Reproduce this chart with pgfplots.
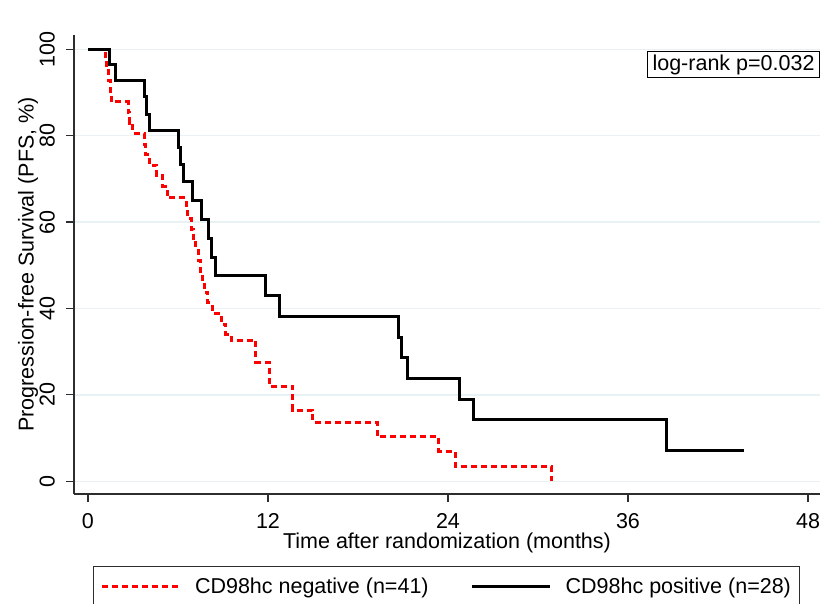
\documentclass[border=0pt]{standalone}
\usepackage{fontspec}
\setmainfont{Liberation Sans}
\usepackage{pgfplots}
\pgfplotsset{compat=1.18}
\definecolor{gridc}{RGB}{232,241,243}
\definecolor{axc}{RGB}{45,45,45}
\newcommand{\fs}{\fontsize{21.5}{25}\selectfont}

\begin{document}
\begin{tikzpicture}
\begin{axis}[
    scale only axis,
    width=746pt, height=459pt,
    xmin=-0.93, xmax=48.8, ymin=-2.94, ymax=103.3,
    axis x line*=bottom, axis y line*=left,
    axis line style={axc, line width=1.2pt, -},
    xtick={0,12,24,36,48}, ytick={0,20,...,100},
    tick align=outside, major tick length=8pt,
    tick style={axc, line width=1.2pt},
    ymajorgrids, grid style={gridc, line width=1.5pt},
    /pgf/number format/assume math mode=true,
    tick label style={font=\fs},
    yticklabel style={rotate=90, anchor=south, inner sep=0pt},
    xticklabel style={anchor=north, inner sep=0pt},
    yticklabel shift=11pt, xticklabel shift=11pt,
    xlabel={Time after randomization (months)},
    ylabel={Progression-free Survival (PFS, \%)},
    label style={font=\fs},
    xlabel style={at={(axis description cs:0.5,-0.1068)}, anchor=center},
    ylabel style={at={(axis description cs:-0.0617,0.5)}, anchor=center},
    legend columns=2,
    legend cell align=left,
    legend style={at={(axis description cs:0.0255,-0.157)}, anchor=north west,
        draw=axc, line width=1pt, font=\fs, inner xsep=6.5pt, inner ysep=9pt,
        /tikz/every odd column/.append style={column sep=12pt},
        /tikz/every even column/.append style={column sep=40pt}},
    legend image code/.code={\draw[#1] (0pt,0pt) -- (78pt,0pt);},
]
% CD98hc negative
\addplot[const plot, red, line width=3pt, dash pattern=on 6pt off 4pt] coordinates {
 (0,100) (1.15,97.6) (1.25,95.1) (1.35,92.7) (1.5,90.2) (1.58,87.8)
 (2.7,85.4) (2.8,82.9) (3.0,80.5) (3.75,78.0) (3.85,75.6) (4.1,73.2)
 (4.6,70.7) (5.0,68.3) (5.3,65.6) (6.55,63.2) (6.65,60.8) (6.9,58.3)
 (7.05,55.9) (7.2,53.5) (7.35,51.0) (7.5,48.6) (7.65,46.2) (7.75,43.7)
 (8.0,41.3) (8.3,38.9) (8.9,36.4) (9.2,34.0) (9.55,32.7) (11.2,27.5)
 (12.1,21.9) (13.65,16.5) (15.0,13.7) (19.3,10.3) (23.4,6.9) (24.5,3.5)
 (30.9,0)
};
\addlegendentry{CD98hc negative (n=41)}
% CD98hc positive
\addplot[const plot, black, line width=3pt] coordinates {
 (0,100) (1.42,96.4) (1.83,92.7) (3.78,89.0) (3.93,85.0) (4.08,81.2)
 (6.02,77.2) (6.18,73.3) (6.38,69.3) (6.97,64.9) (7.6,60.6) (8.02,56.3)
 (8.25,51.9) (8.48,47.6) (11.85,42.9) (12.8,38.1) (20.73,33.3) (20.87,28.6)
 (21.27,23.8) (24.8,19.0) (25.7,14.3) (38.58,7.1) (43.73,7.1)
};
\addlegendentry{CD98hc positive (n=28)}
\node[draw=black, line width=1pt, anchor=north east, font=\fs, inner xsep=5pt, inner ysep=3pt]
    at (rel axis cs:1,0.965) {log-rank p=0.032};
\end{axis}
\pgfresetboundingbox
\path[use as bounding box] (-74pt,-109pt) rectangle (752pt,494pt);
\end{tikzpicture}
\end{document}
